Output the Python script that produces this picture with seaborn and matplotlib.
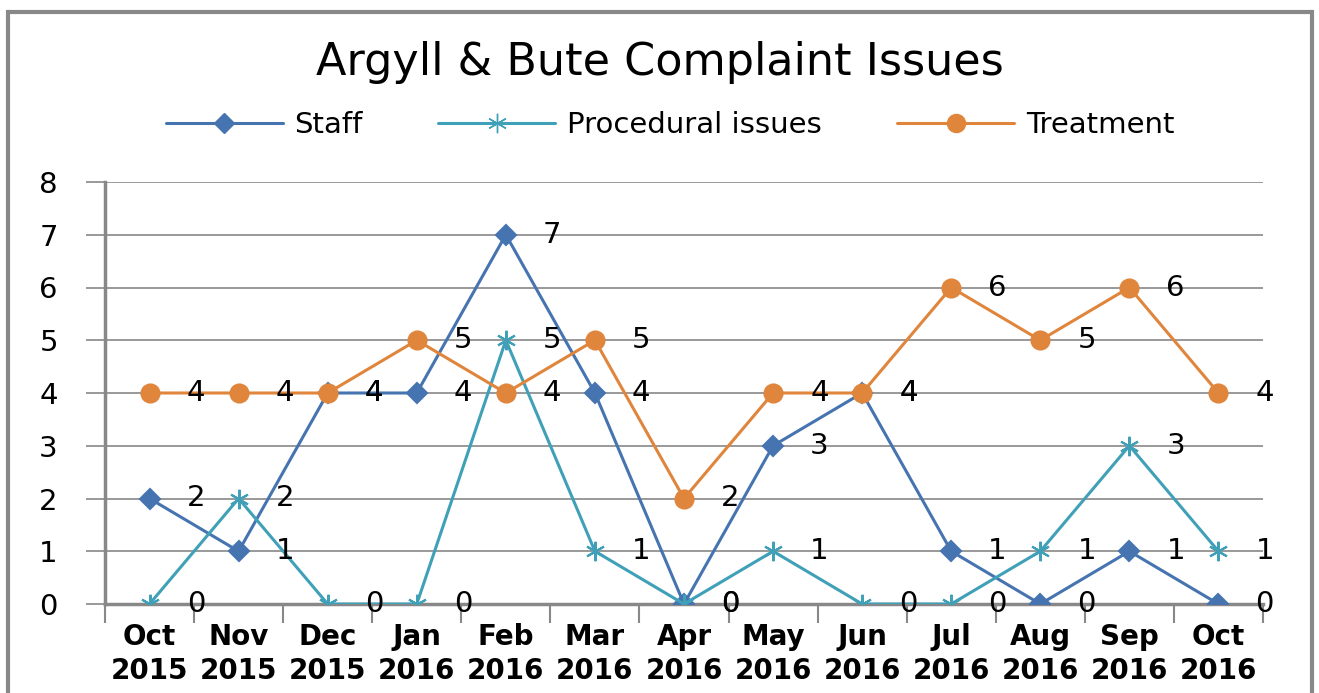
import pandas as pd
import matplotlib
matplotlib.use("Agg")
import matplotlib.pyplot as plt
from matplotlib.patches import Rectangle
from matplotlib.lines import Line2D
import seaborn as sns

months = ["Oct\n2015", "Nov\n2015", "Dec\n2015", "Jan\n2016", "Feb\n2016", "Mar\n2016", "Apr\n2016",
          "May\n2016", "Jun\n2016", "Jul\n2016", "Aug\n2016", "Sep\n2016", "Oct\n2016"]
staff = [2, 1, 4, 4, 7, 4, 0, 3, 4, 1, 0, 1, 0]
procedural = [0, 2, 0, 0, 5, 1, 0, 1, 0, 0, 1, 3, 1]
treatment = [4, 4, 4, 5, 4, 5, 2, 4, 4, 6, 5, 6, 4]

series = [
    ("Staff", staff, "#4674B0", "D", 10),
    ("Procedural issues", procedural, "#3FA0B8", (6, 2, 0), 14),
    ("Treatment", treatment, "#E0853C", "o", 13),
]

sns.set_style("white")
plt.rcParams["font.family"] = ["DejaVu Sans"]
plt.rcParams["text.color"] = "black"
plt.rcParams["xtick.labelcolor"] = "black"
plt.rcParams["ytick.labelcolor"] = "black"

fig = plt.figure(figsize=(13.19, 6.93), dpi=100)
ax = fig.add_axes([105 / 1319, 1 - 604 / 693, (1263 - 105) / 1319, (604 - 182) / 693])

idx = list(range(len(months)))
for name, vals, col, mk, ms in series:
    df = pd.DataFrame({"idx": idx, "value": vals})
    sns.lineplot(data=df, x="idx", y="value", ax=ax, color=col, marker=mk, markersize=ms,
                 markeredgecolor=col, markeredgewidth=1.5, linewidth=2.2, zorder=3)
    for i, v in zip(idx, vals):
        ax.text(i + 0.52, v, str(v), fontsize=21, va="center", ha="center", color="black", zorder=4)

ax.set_xlim(-0.5, len(months) - 0.5)
ax.set_ylim(0, 8)
ax.set_yticks(range(0, 9))
ax.set_xticks(idx)
ax.set_xticklabels(months, fontsize=20, fontweight="bold", linespacing=1.25)
ax.set_xticks([i - 0.5 for i in range(len(months) + 1)], minor=True)
ax.tick_params(axis="x", which="major", length=0, pad=14, bottom=True)
ax.tick_params(axis="x", which="minor", length=14, width=1.5, color="#888888", bottom=True)
ax.tick_params(axis="y", length=14, width=1.2, color="#888888", labelsize=21, pad=20, left=True)
ax.set_xlabel("")
ax.set_ylabel("")
ax.grid(axis="y", color="#888888", linewidth=1.2)
ax.set_axisbelow(True)
for s in ["top", "right"]:
    ax.spines[s].set_visible(False)
ax.spines["left"].set_color("#888888")
ax.spines["left"].set_linewidth(2.5)
ax.spines["bottom"].set_color("#888888")
ax.spines["bottom"].set_linewidth(2.5)

fig.text(0.5, 0.91, "Argyll & Bute Complaint Issues", ha="center", va="center",
         fontsize=32, family=["DejaVu Sans"])

handles = [Line2D([], [], color=c, marker=m, markersize=ms, markeredgecolor=c, linewidth=2.2)
           for _, _, c, m, ms in series]
fig.legend(handles, [s[0] for s in series], loc="center", bbox_to_anchor=(0.508, 0.82), ncol=3,
           frameon=False, handlelength=4.0, columnspacing=2.6, handletextpad=0.4,
           prop={"family": ["DejaVu Sans"], "size": 21})

fig.patches.append(Rectangle((8 / 1319, -0.05), (1312 - 8) / 1319, 1.05 - 12 / 693,
                             transform=fig.transFigure, fill=False, edgecolor="#888888",
                             linewidth=3))

fig.savefig("out.png", dpi=100)
